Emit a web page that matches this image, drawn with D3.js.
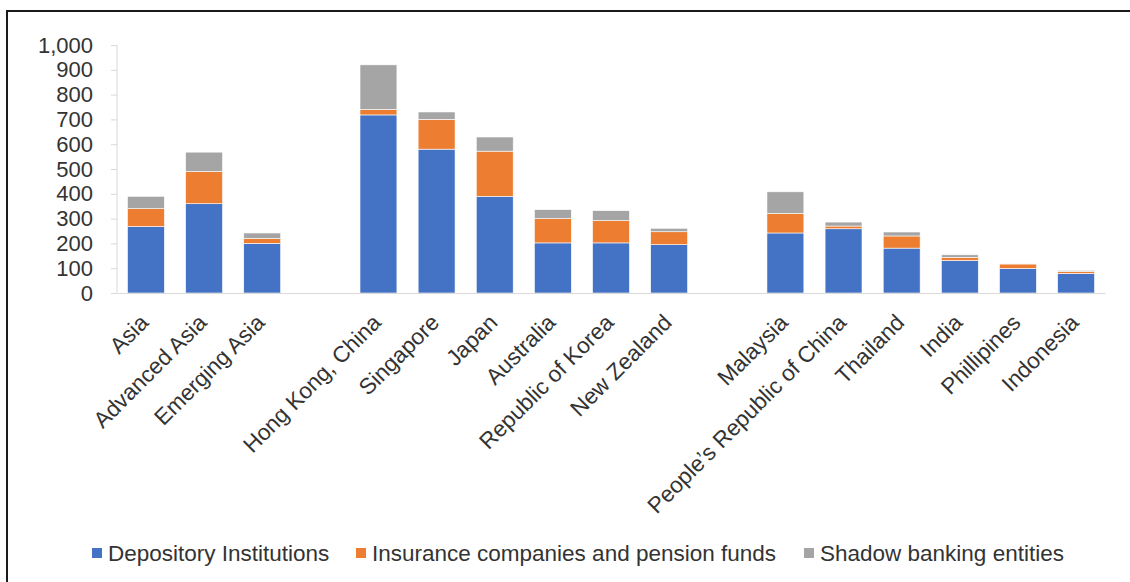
<!DOCTYPE html>
<html lang="en">
    <head>
        <meta charset="utf-8">
        <title>Asia financial assets by sector</title>
        <script type="text/javascript" src="https://d3js.org/d3.v7.min.js"></script>
    </head>
    <style>
    body {
      margin: 0;
      background: #fff;
      font-family: "Liberation Sans", Arial, Helvetica, sans-serif;
    }
    </style>
    <body>
      <script type="text/javascript">
      //Categories, blank entries are the gaps between groups
      var categories = ["Asia", "Advanced Asia", "Emerging Asia", "",
        "Hong Kong, China", "Singapore", "Japan", "Australia", "Republic of Korea", "New Zealand", " ",
        "Malaysia", "People\u2019s Republic of China", "Thailand", "India", "Phillipines", "Indonesia"];

      //Series values (null for the gaps)
      var depository = [268, 360, 200, null, 718, 580, 390, 202, 202, 195, null, 242, 259, 181, 131, 99, 79];
      var insurance  = [72, 130, 20, null, 22, 120, 182, 98, 90, 52, null, 79, 11, 49, 13, 18, 8];
      var shadow     = [50, 78, 22, null, 180, 30, 57, 36, 40, 14, null, 87, 16, 16, 10, 2, 4];

      var seriesNames = ["Depository Institutions", "Insurance companies and pension funds", "Shadow banking entities"];
      var seriesColors = ["#4472c4", "#ed7d31", "#a5a5a5"];

      var yTicks = [0, 100, 200, 300, 400, 500, 600, 700, 800, 900, 1000];

      //Width and height
      var w = 1130;
      var h = 582;

      //build rows for the stack
      var rows = categories.map(function(c, i) {
        return {
          cat: c,
          gap: depository[i] === null,
          "Depository Institutions": depository[i] || 0,
          "Insurance companies and pension funds": insurance[i] || 0,
          "Shadow banking entities": shadow[i] || 0
        };
      });
      var stacked = d3.stack().keys(seriesNames)(rows);

      //Create scale functions
      var xScale = d3.scaleBand()
          .domain(categories)
          .range([117, 1105])
          .paddingInner(0.365)
          .paddingOuter(0.18);
      var yScale = d3.scaleLinear()
          .domain([0, 1000])
          .range([293, 45]);
      var color = d3.scaleOrdinal().domain(seriesNames).range(seriesColors);

      //Create SVG element
      var svg = d3.select("body")
          .append("svg")
          .attr("width", w)
          .attr("height", h);

      //frame (top and left edge only)
      svg.append("path")
          .attr("d", "M7,582 V11 H1130")
          .attr("fill", "none")
          .attr("stroke", "#1a1a1a")
          .attr("stroke-width", 2);

      //bars
      svg.selectAll("g.series")
          .data(stacked)
          .enter()
          .append("g")
          .attr("class", "series")
          .attr("fill", function(d) { return color(d.key); })
          .selectAll("rect")
          .data(function(d) { return d.filter(function(p) { return !p.data.gap; }); })
          .enter()
          .append("rect")
          .attr("x", function(d) { return xScale(d.data.cat); })
          .attr("width", xScale.bandwidth())
          .attr("y", function(d) { return yScale(d[1]); })
          .attr("height", function(d) { return yScale(d[0]) - yScale(d[1]); })
          .attr("stroke", "#ffffff")
          .attr("stroke-width", 0.6);

      //Y axis
      var yAxis = d3.axisLeft(yScale)
          .tickValues(yTicks)
          .tickSize(6)
          .tickPadding(18)
          .tickFormat(d3.format(","));
      var yg = svg.append("g")
          .attr("transform", "translate(117,0)")
          .call(yAxis);
      yg.selectAll("line, path").attr("stroke", "#d9d9d9");
      yg.select(".domain").attr("d", "M0,45V293");
      yg.selectAll("text")
          .attr("fill", "#333")
          .attr("font-size", "22px")
          .attr("font-family", "Liberation Sans, Arial, sans-serif");

      //X axis baseline
      var xAxis = d3.axisBottom(xScale).tickSize(0).tickFormat("");
      var xg = svg.append("g")
          .attr("transform", "translate(0,293)")
          .call(xAxis);
      xg.select(".domain").attr("stroke", "#d9d9d9");

      //category labels, rotated
      svg.selectAll("text.cat")
          .data(categories.filter(function(c) { return c.trim() !== ""; }))
          .enter()
          .append("text")
          .attr("class", "cat")
          .attr("text-anchor", "end")
          .attr("transform", function(d) {
            return "translate(" + (xScale(d) + xScale.bandwidth() / 2 + 4) + ",324) rotate(-45)";
          })
          .attr("font-size", "22.5px")
          .attr("fill", "#333")
          .text(function(d) { return d; });

      //legend
      var legendX = [92, 356, 804];
      var legend = svg.selectAll("g.legend")
          .data(seriesNames)
          .enter()
          .append("g")
          .attr("class", "legend")
          .attr("transform", function(d, i) { return "translate(" + legendX[i] + ",548)"; });
      legend.append("rect")
          .attr("width", 10)
          .attr("height", 10)
          .attr("fill", function(d) { return color(d); });
      legend.append("text")
          .attr("x", 16)
          .attr("y", 13)
          .attr("font-size", "22.5px")
          .attr("fill", "#333")
          .text(function(d) { return d; });
      </script>
    </body>
</html>
